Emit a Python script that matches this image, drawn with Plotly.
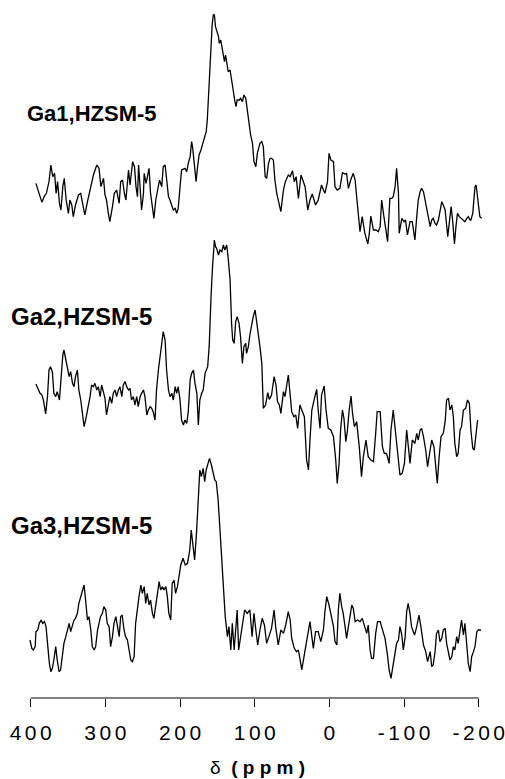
import plotly.graph_objects as go

# ---------------- data ----------------
# chemical shift (ppm) and intensity (arbitrary units) for each sample
ga1_ppm = [
    393, 390, 385, 382, 379, 375.5, 373, 370.5, 368, 366,
    364, 361.5, 359.5, 357, 355, 352.5, 349.5, 347.5, 345, 343,
    340, 336, 333, 330.5, 327.5, 324, 320.5, 316, 311.5, 308.5,
    306, 302.5, 300.5, 298.5, 296, 294, 290.5, 288, 285, 281.5,
    279.5, 277, 274.5, 272.5, 269, 267, 263.5, 261, 259, 257,
    255.5, 253.5, 251.5, 249, 248, 245.5, 241.5, 239.5, 236.5, 235,
    232.5, 230.5, 227.5, 224.5, 222.5, 220, 218, 215.5, 213.5, 211,
    209, 206.5, 204.5, 202.5, 200, 198, 193.5, 191, 189, 186.5,
    184.5, 183, 181, 178.5, 176.5, 174.5, 172, 169.5, 167.5, 165,
    163.5, 162, 161, 159, 157, 155.5, 154, 152.5, 151, 148.5,
    147.5, 145.5, 144, 142, 140.5, 139, 137.5, 135.5, 133, 131.5,
    130, 128.5, 126.5, 125, 123.5, 120.5, 119, 116.5, 114.5, 112,
    110, 107.5, 105.5, 103, 101, 98.5, 96.5, 93, 90.5, 88.5,
    86, 84, 81.5, 79.5, 77.5, 75, 73, 70.5, 67.5, 65,
    61.5, 59, 55, 52.5, 49.5, 47, 44.5, 41.5, 38, 35,
    32.5, 29, 26, 23, 20.5, 18.5, 15, 10.5, 8, 6,
    2.5, 0.5, -2, -5.5, -7.5, -10.5, -14, -17.5, -21, -23,
    -25.5, -28.5, -32, -34.5, -36.5, -39, -41, -44, -47.5, -51.5,
    -53.5, -55.5, -59, -62.5, -65.5, -68, -70, -73, -76, -78,
    -81, -83.5, -85.5, -88, -90, -92.5, -93.5, -97, -100, -102,
    -104.5, -108, -111, -114.5, -117, -119, -121.5, -123.5, -126, -128,
    -131.5, -135, -137, -139, -141.5, -143.5, -146, -148, -150.5, -152.5,
    -155, -158.5, -160.5, -163, -165, -167.5, -169.5, -171.5, -174, -177,
    -179.5, -181.5, -184, -186, -188.5, -189.5, -192, -195, -196.5, -198.5,
    -201.5, -204,
]
ga1_int = [
    200, 180, 143, 160, 170, 205, 255, 220, 230, 170,
    205, 140, 120, 190, 215, 150, 110, 150, 135, 100,
    135, 165, 170, 140, 105, 145, 180, 225, 255, 245,
    190, 215, 165, 150, 110, 85, 130, 170, 180, 140,
    205, 210, 170, 150, 240, 195, 265, 250, 190, 160,
    255, 190, 120, 170, 230, 200, 245, 170, 125, 95,
    150, 170, 210, 190, 250, 255, 210, 160, 150, 130,
    120, 125, 110, 125, 190, 240, 245, 235, 260, 280,
    325, 305, 260, 205, 250, 285, 300, 320, 330, 355,
    390, 460, 488, 590, 675, 705, 705, 670, 660, 640,
    620, 630, 610, 585, 565, 585, 555, 535, 540, 515,
    500, 480, 445, 430, 450, 450, 455, 445, 465, 455,
    420, 380, 345, 320, 265, 250, 290, 320, 325, 310,
    220, 215, 260, 275, 275, 270, 210, 170, 135, 115,
    180, 205, 225, 220, 238, 205, 220, 155, 225, 205,
    190, 120, 150, 168, 150, 135, 150, 195, 180, 170,
    205, 290, 270, 265, 190, 180, 185, 232, 228, 230,
    185, 210, 230, 210, 160, 100, 55, 100, 50, 18,
    50, 102, 60, 60, 55, 70, 150, 100, 50, 25,
    155, 155, 160, 190, 245, 170, 50, 95, 85, 90,
    45, 85, 85, 30, 100, 150, 175, 185, 175, 150,
    110, 70, 90, 95, 80, 75, 90, 110, 145, 135,
    120, 40, 90, 130, 90, 18, 70, 110, 100, 95,
    90, 85, 95, 100, 90, 90, 110, 190, 195, 160,
    100, 95,
]

ga2_ppm = [
    393, 390, 387.5, 385, 383, 380, 377.5, 375.5, 373.5, 371,
    369, 366.5, 364.5, 361.5, 359.5, 357, 355.5, 353, 351, 348.5,
    346.5, 344, 342, 340, 337.5, 335.5, 333, 331, 328.5, 326,
    323, 320.5, 318.5, 316, 314, 311.5, 309.5, 307, 305, 302.5,
    300.5, 298.5, 296, 294, 291.5, 289.5, 287, 285, 282.5, 280.5,
    278, 276, 273.5, 271.5, 269, 267, 265, 262.5, 260.5, 258,
    256, 253.5, 251.5, 249, 247, 244.5, 242.5, 240, 238, 236,
    233.5, 231.5, 229, 227, 224.5, 222.5, 220, 218, 215.5, 213.5,
    211, 209, 206.5, 204.5, 202.5, 200, 198, 195.5, 193.5, 191,
    189, 186.5, 184.5, 182, 180, 177.5, 175.5, 173.5, 171, 169,
    166.5, 164.5, 163, 161, 160, 158.5, 156.5, 155.5, 154, 152.5,
    151, 148.5, 146.5, 144, 142, 140, 137.5, 135.5, 133, 131,
    129.5, 127.5, 125.5, 123.5, 121, 119, 116.5, 114.5, 112, 111,
    108.5, 106.5, 104, 102, 99.5, 97.5, 95, 93, 90.5, 89.8,
    88.5, 85.5, 82.5, 80.5, 77.5, 74, 71.5, 69.5, 67, 65,
    61.5, 59.5, 55, 52.5, 50.5, 47.5, 45, 42.5, 39.5, 37,
    33.5, 30.5, 28, 26, 23.5, 20, 17, 15, 12.5, 10.5,
    7, 4.5, 1.5, -2, -5.5, -8.5, -10.5, -13, -15, -17.5,
    -19.5, -22, -24, -26.5, -29, -31, -33.5, -36.5, -40, -43,
    -45.5, -49, -52, -55.5, -59, -62, -64, -68, -71, -73.5,
    -76.5, -80, -82.5, -85.5, -88, -91.5, -94.5, -97.5, -100.5, -103.5,
    -105.5, -108, -111, -114.5, -117, -119, -121.5, -123.5, -126, -129,
    -131.5, -135, -137, -140, -142.5, -144.5, -147, -149.5, -152.5, -155,
    -157, -159.5, -161.5, -164, -166, -168, -170.5, -172.5, -175, -177,
    -179.5, -182.5, -185, -187.5, -189.5, -192, -194, -196.5, -198.5,
]
ga2_int = [
    308, 292, 280, 275, 260, 218, 270, 350, 360, 345,
    280, 270, 285, 260, 330, 395, 410, 380, 360, 330,
    345, 310, 300, 330, 350, 290, 260, 225, 180, 205,
    240, 270, 305, 300, 310, 290, 300, 270, 305, 280,
    265, 215, 240, 270, 250, 280, 290, 270, 290, 300,
    270, 305, 315, 300, 290, 295, 260, 270, 245, 270,
    240, 270, 280, 290, 270, 215, 230, 240, 235, 225,
    200, 290, 350, 390, 440, 465, 440, 350, 290, 270,
    280, 260, 300, 280, 300, 260, 200, 185, 200, 190,
    225, 320, 340, 350, 310, 280, 185, 260, 280, 290,
    340, 350, 360, 420, 500, 570, 660, 710, 740, 720,
    715, 695, 710, 705, 725, 710, 725, 685, 620, 490,
    440, 430, 495, 510, 490, 450, 370, 420, 430, 400,
    420, 455, 490, 510, 530, 490, 460, 420, 370, 310,
    235, 245, 282, 262, 275, 330, 305, 255, 245, 220,
    285, 270, 335, 275, 225, 210, 215, 175, 245, 230,
    210, 80, 50, 140, 230, 265, 292, 230, 175, 275,
    302, 230, 175, 170, 150, 80, 10, 70, 170, 230,
    205, 135, 165, 230, 272, 220, 180, 195, 120, 30,
    90, 140, 90, 80, 75, 160, 225, 225, 120, 100,
    100, 70, 170, 230, 170, 90, 35, 40, 70, 170,
    120, 70, 140, 130, 160, 140, 170, 175, 150, 110,
    60, 120, 140, 120, 50, 10, 90, 150, 160, 195,
    260, 265, 230, 245, 210, 130, 90, 100, 170, 180,
    230, 235, 260, 250, 170, 115, 110, 170, 200,
]

ga3_ppm = [
    401, 398.5, 396.5, 394, 393, 390.5, 388.5, 386, 384, 381.5,
    379.5, 377.5, 375, 373, 371, 369, 366.5, 364.5, 362, 360,
    357.5, 355.5, 353, 351, 348.5, 346.5, 344, 342, 340, 337.5,
    335.5, 333, 331, 328.5, 326.5, 324, 322, 319.5, 317.5, 315,
    313, 310.5, 308.5, 306.5, 304, 302, 299.5, 297.5, 295, 293,
    290.5, 288.5, 286, 284, 281.5, 279.5, 277.5, 275, 273, 270.5,
    268.5, 266, 264, 261.5, 259.5, 257, 255, 252.5, 250.5, 248,
    246, 244, 241.5, 239.5, 237, 235, 232.5, 230.5, 228, 226,
    223.5, 221.5, 219, 217, 215, 212.5, 210.5, 208, 206, 203.5,
    201.5, 199, 196, 193, 190, 187, 185, 182.5, 180.5, 178,
    176, 174.5, 173.5, 171.5, 169, 167, 165, 162.5, 160.5, 158,
    156, 153.5, 151.5, 149, 146.5, 144, 142, 139.5, 136.5, 134.5,
    132, 130, 127.5, 124.5, 123.5, 121.5, 119, 115.5, 113.5, 110,
    106.5, 103.5, 101, 98.5, 96, 93, 90, 87, 84, 81,
    77.5, 74, 72, 68.5, 65, 61.5, 58.5, 55, 52.5, 50.5,
    47, 44, 41.5, 39.5, 37, 34, 31.5, 28, 26, 23.5,
    21.5, 18.5, 15, 11.5, 8, 6, 3.5, 0.5, -2, -5.5,
    -7.5, -10, -12, -14, -16.5, -18.5, -21, -23, -26.5, -30,
    -32, -34.5, -37.5, -41, -44, -47.5, -50, -52, -54.5, -56.5,
    -59, -62, -64.5, -68, -71, -74.5, -77.5, -80, -82.5, -85,
    -87, -90, -92.5, -94.5, -97, -99, -101.5, -103.5, -105.5, -108,
    -110, -114, -117, -120, -122.5, -126, -129, -131.5, -135, -137,
    -139, -141.5, -143.5, -146, -148, -150.5, -152.5, -155, -157, -159.5,
    -161.5, -164, -166, -168, -170.5, -172.5, -175, -177, -179.5, -181.5,
    -184, -186, -188.5, -190.5, -193, -195, -197.5, -199.5, -203,
]
ga3_int = [
    130, 105, 100, 110, 155, 160, 180, 190, 180, 185,
    170, 110, 60, 35, 45, 70, 110, 70, 35, 40,
    80, 120, 140, 160, 180, 155, 180, 190, 195, 210,
    240, 260, 270, 295, 250, 190, 200, 160, 110, 100,
    110, 160, 180, 200, 210, 230, 220, 180, 170, 110,
    140, 180, 200, 170, 140, 200, 205, 160, 140, 130,
    100, 70, 65, 80, 180, 230, 260, 295, 270, 290,
    240, 270, 235, 250, 210, 195, 230, 260, 305, 280,
    290, 280, 290, 260, 210, 190, 300, 310, 270, 290,
    320, 355, 375, 355, 360, 400, 460, 400, 370, 450,
    520, 600, 640, 620, 645, 605, 640, 660, 675, 655,
    630, 610, 605, 550, 460, 370, 290, 200, 140, 170,
    100, 180, 100, 175, 220, 100, 140, 190, 220, 210,
    220, 140, 210, 160, 115, 160, 195, 175, 120, 140,
    165, 220, 170, 115, 160, 150, 175, 215, 190, 135,
    105, 95, 100, 75, 40, 80, 115, 160, 185, 140,
    105, 155, 155, 125, 160, 215, 260, 235, 210, 170,
    125, 115, 220, 270, 230, 210, 170, 135, 185, 235,
    225, 185, 190, 185, 195, 170, 150, 175, 100, 75,
    75, 150, 185, 185, 160, 135, 90, 40, 15, 50,
    80, 120, 130, 170, 145, 100, 140, 215, 240, 210,
    170, 145, 170, 205, 170, 115, 95, 65, 95, 50,
    55, 95, 150, 160, 125, 135, 160, 165, 120, 85,
    70, 80, 110, 100, 140, 120, 165, 190, 145, 180,
    115, 60, 35, 80, 95, 110, 155, 160, 160,
]

labels = ["Ga1,HZSM-5", "Ga2,HZSM-5", "Ga3,HZSM-5"]
tick_vals = [400, 300, 200, 100, 0, -100, -200]
tick_labels = ["400", "300", "200", "100", "0", "-100", "-200"]

# ---------------- layout constants ----------------
W, H = 505, 779
ML, MR, MT, MB = 29, 22, 0, 81
PLOT_H = H - MT - MB
offsets = [448.0, 211.33, 14.67]     # vertical stacking offsets
scale = 1.0 / 3.0                    # intensity -> vertical units
label_pos = [(-0.0088, 585, 22), (-0.044, 382, 24), (-0.044, 173, 24)]

fig = go.Figure()
for ppm, inten, off in [(ga1_ppm, ga1_int, offsets[0]),
                        (ga2_ppm, ga2_int, offsets[1]),
                        (ga3_ppm, ga3_int, offsets[2])]:
    n = min(len(ppm), len(inten))
    fig.add_trace(go.Scatter(
        x=ppm[:n], y=[off + v * scale for v in inten[:n]],
        mode="lines", line=dict(color="black", width=1.3),
        hoverinfo="skip", showlegend=False))

sp = "\u2006"
fig.update_xaxes(
    range=[402.28, -205.72], showline=False, showgrid=False, zeroline=False,
    tickmode="array", tickvals=tick_vals,
    ticktext=[sp.join(list(t)) for t in tick_labels],
    ticks="outside", ticklen=8, tickwidth=1, tickcolor="black",
    ticklabelstandoff=8,
    tickfont=dict(family="Liberation Sans, Arial", size=21, color="black"),
)
fig.update_yaxes(range=[0, PLOT_H], visible=False, showgrid=False, zeroline=False)

# axis baseline between the first and last tick
fig.add_shape(type="line", xref="x", yref="paper",
              x0=tick_vals[0], x1=tick_vals[-1], y0=0, y1=0,
              line=dict(color="black", width=1))

for (px, py, fs), txt in zip(label_pos, labels):
    fig.add_annotation(xref="paper", yref="y", x=px, y=py, text="<b>%s</b>" % txt,
                       showarrow=False, xanchor="left", yanchor="middle",
                       font=dict(family="Liberation Sans, Arial", size=fs, color="black"))

nb = "\u00a0"
title_txt = "δ" + nb + nb + "<b>" + nb.join(list("(ppm)")) + "</b>"
fig.add_annotation(xref="paper", yref="paper", x=0.503, y=0, yshift=-69,
                   text=title_txt, showarrow=False, xanchor="center", yanchor="middle",
                   font=dict(family="Liberation Sans, Arial", size=19, color="black"))

fig.update_layout(
    width=W, height=H, margin=dict(l=ML, r=MR, t=MT, b=MB, pad=0),
    paper_bgcolor="white", plot_bgcolor="white",
)

fig.write_html("out.html")
